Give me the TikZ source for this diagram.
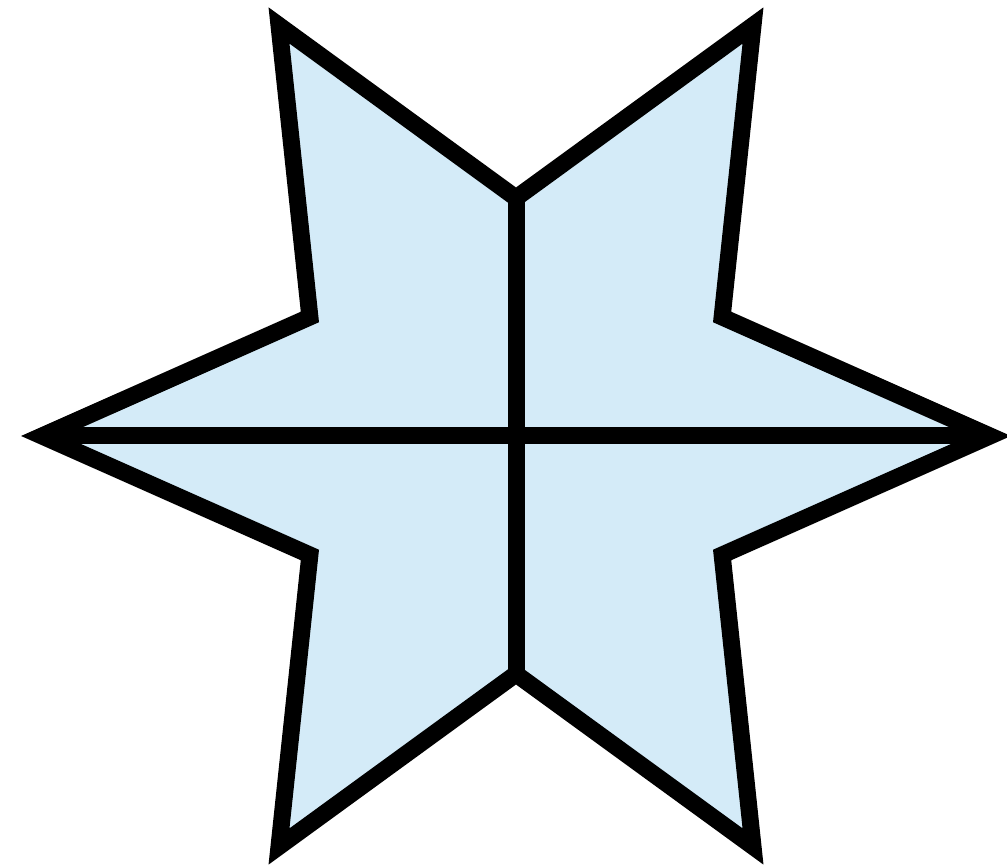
\documentclass[tikz,border=0pt]{standalone}
\usepackage{tikz}
\usetikzlibrary{calc}

\definecolor{starblue}{RGB}{212,235,248}

\begin{document}
\begin{tikzpicture}[
            x=0.01cm, y=0.01cm,
            star/.style={draw=black,fill=starblue,line width=0.17cm,line join=miter,miter limit=10},
            cut/.style={draw=black,line width=0.17cm}
        ]

        \useasboundingbox (0,0) rectangle (1007,868);

        \coordinate (c) at (516,432);
        % outer tips
        \coordinate (tipR)  at ($(c)+(0:474)$);
        \coordinate (tipTR) at ($(c)+(60:474)$);
        \coordinate (tipTL) at ($(c)+(120:474)$);
        \coordinate (tipL)  at ($(c)+(180:474)$);
        \coordinate (tipBL) at ($(c)+(240:474)$);
        \coordinate (tipBR) at ($(c)+(300:474)$);
        % inner corners
        \coordinate (inR)  at ($(c)+(30:238)$);
        \coordinate (inT)  at ($(c)+(90:238)$);
        \coordinate (inL)  at ($(c)+(150:238)$);
        \coordinate (inBL) at ($(c)+(210:238)$);
        \coordinate (inB)  at ($(c)+(270:238)$);
        \coordinate (inBR) at ($(c)+(330:238)$);

        \path[star] (tipR) -- (inR) -- (tipTR) -- (inT) -- (tipTL) -- (inL)
            -- (tipL) -- (inBL) -- (tipBL) -- (inB) -- (tipBR) -- (inBR) -- cycle;

        \draw[cut] (tipL) -- (tipR);
        \draw[cut] (inT) -- (inB);

\end{tikzpicture}
\end{document}
